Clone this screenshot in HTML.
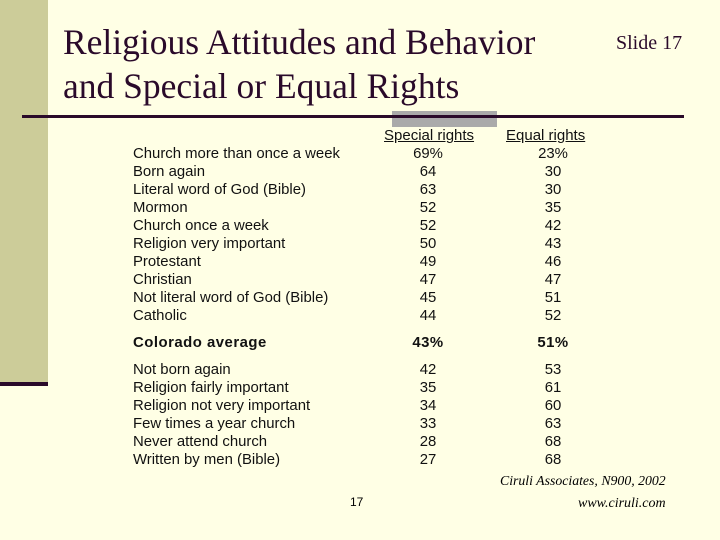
<!DOCTYPE html>
<html><head><meta charset="utf-8"><style>
body{margin:0;}
#s{position:relative;width:720px;height:540px;background:#ffffe5;overflow:hidden;font-family:"Liberation Sans",sans-serif;color:#000;}
.a{position:absolute;white-space:nowrap;}
.t{font-family:"Liberation Serif",serif;font-size:35.5px;color:#2a0a2a;line-height:44px;}
.r{font-size:14.9px;line-height:18px;color:#111;}
.c{text-align:center;width:60px;}
</style></head><body>
<div id="s">
<div class="a" style="left:0;top:0;width:48px;height:382px;background:#cccc99"></div>
<div class="a" style="left:0;top:382px;width:48px;height:4px;background:#2a0a2a"></div>
<div class="a" style="left:392px;top:111px;width:105px;height:16px;background:#aaaaaa"></div>
<div class="a" style="left:22px;top:115px;width:662px;height:3px;background:#2a0a2a"></div>
<div class="a t" style="left:63px;top:20px">Religious Attitudes and Behavior<br>and Special or Equal Rights</div>
<div class="a" style="left:616px;top:32px;font-family:'Liberation Serif',serif;font-size:20px;color:#2a0a2a">Slide 17</div>
<div class="a r" style="left:384px;top:127px;font-size:15px;text-decoration:underline">Special rights</div>
<div class="a r" style="left:506px;top:127px;font-size:15px;text-decoration:underline">Equal rights</div>
<div class="a" style="left:500px;top:473px;font-family:'Liberation Serif',serif;font-style:italic;font-size:13.8px">Ciruli Associates, N900, 2002</div>
<div class="a" style="left:578px;top:496px;font-family:'Liberation Serif',serif;font-style:italic;font-size:14px">www.ciruli.com</div>
<div class="a" style="left:350px;top:495px;font-size:12px">17</div>
</div>
<script>
const labels=["Church more than once a week","Born again","Literal word of God (Bible)","Mormon","Church once a week","Religion very important","Protestant","Christian","Not literal word of God (Bible)","Catholic","Colorado average","Not born again","Religion fairly important","Religion not very important","Few times a year church","Never attend church","Written by men (Bible)"];
const special=["69%","64","63","52","52","50","49","47","45","44","43%","42","35","34","33","28","27"];
const equal=["23%","30","30","35","42","43","46","47","51","52","51%","53","61","60","63","68","68"];
const s=document.getElementById('s');
labels.forEach((l,i)=>{
  let y=145+i*18;
  if(i==10) y=334;
  if(i>10) y=361+(i-11)*18;
  const bold=i==10;
  const mk=(txt,x,cls,nm)=>{const d=document.createElement('div');d.className='a r '+cls;d.style.left=x+'px';d.style.top=y+'px';if(bold){d.style.fontWeight='bold';d.style.letterSpacing='0.5px';}d.textContent=txt;
    
    
    s.appendChild(d);};
  mk(l,133,'','row-label');
  mk(special[i],398,'c','special-value');
  mk(equal[i],523,'c','equal-value');
});
</script>
</body></html>
